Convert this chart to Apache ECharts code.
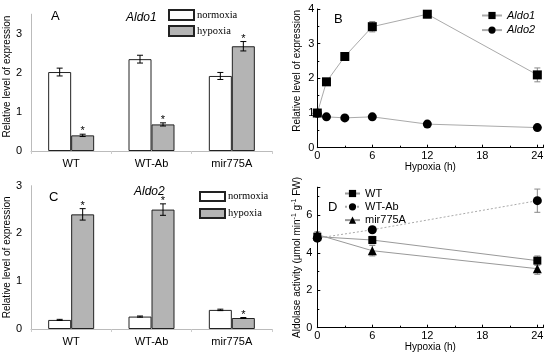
<!DOCTYPE html>
<html><head><meta charset="utf-8">
<script src="https://cdn.jsdelivr.net/npm/echarts@6/dist/echarts.min.js"></script>
<style>html,body{margin:0;padding:0;background:#fff}#c{width:550px;height:356px}</style>
</head><body><div id="c"></div>
<script>
// ---- Data ----
const groups = ['WT', 'WT-Ab', 'mir775A'];
// Panel A: Aldo1 expression
const aldo1Normoxia = [2.02, 2.35, 1.92];
const aldo1NormoxiaErr = [0.10, 0.10, 0.09];
const aldo1Hypoxia = [0.40, 0.68, 2.68];
const aldo1HypoxiaErr = [0.03, 0.04, 0.12];
const aldo1HypoxiaSig = [1, 1, 1];
// Panel C: Aldo2 expression
const aldo2Normoxia = [0.19, 0.26, 0.40];
const aldo2NormoxiaErr = [0.012, 0.012, 0.015];
const aldo2Hypoxia = [2.40, 2.50, 0.23];
const aldo2HypoxiaErr = [0.12, 0.12, 0.01];
const aldo2HypoxiaSig = [1, 1, 1];
// Panel B: time course
const hoursB = [0, 1, 3, 6, 12, 24];
const aldo1Time = [1.0, 1.90, 2.63, 3.49, 3.85, 2.10];
const aldo1TimeErr = [0.04, 0.05, 0.05, 0.15, 0.10, 0.20];
const aldo2Time = [0.99, 0.89, 0.86, 0.89, 0.68, 0.58];
const aldo2TimeErr = [0.03, 0.03, 0.03, 0.03, 0.08, 0.04];
// Panel D: aldolase activity
const hoursD = [0, 6, 24];
const wtAct = [4.86, 4.68, 3.58];
const wtActErr = [0.15, 0.20, 0.25];
const wtAbAct = [4.78, 5.23, 6.78];
const wtAbActErr = [0.15, 0.15, 0.62];
const mirAct = [4.97, 4.11, 3.15];
const mirActErr = [0.15, 0.28, 0.30];
// Tick settings
const xTicksTime = {min: 0, interval: 6};
</script>
<script>
const FONT = 'Liberation Sans';
const chart = echarts.init(document.getElementById('c'), null, {renderer: 'canvas'});

function seg(x1, y1, x2, y2, color) {
  return {type: 'line', shape: {x1, y1, x2, y2}, style: {stroke: color, lineWidth: 1}};
}
function errRender(offset, color, cap) {
  return function (params, api) {
    const x = api.value(0), v = api.value(1), e = api.value(2), s = api.value(3);
    const c = api.coord([x, v]);
    const t = api.coord([x, v + e]);
    const b = api.coord([x, v - e]);
    const cx = c[0] + offset;
    const ch = [seg(cx, t[1], cx, b[1], color), seg(cx - cap, t[1], cx + cap, t[1], color), seg(cx - cap, b[1], cx + cap, b[1], color)];
    if (s) {
      ch.push({type: 'text', style: {text: '*', x: cx, y: t[1] - 3, align: 'center', verticalAlign: 'middle', textAlign: 'center', textVerticalAlign: 'middle', font: '11px ' + FONT, fill: '#000'}});
    }
    return {type: 'group', children: ch};
  };
}
function errData(vals, errs, sig, xs) {
  return vals.map((v, i) => [xs ? xs[i] : i, v, errs[i], sig ? sig[i] : 0]);
}

const grayAxis = {lineStyle: {color: '#bbb', width: 1}};
const blackAxis = {lineStyle: {color: '#000', width: 1}};
const lbl = {color: '#000', fontFamily: FONT, fontSize: 11};
const yName = {color: '#000', fontFamily: FONT, fontSize: 10};

const barStyleN = {color: '#fff', borderColor: '#222', borderWidth: 1};
const barStyleH = {color: '#b4b4b4', borderColor: '#222', borderWidth: 1};

const option = {
  backgroundColor: '#fff',
  animation: false,
  textStyle: {fontFamily: FONT},
  title: [
    {text: 'A', left: 46, top: 5, textStyle: {fontSize: 13, fontWeight: 'normal', fontFamily: FONT, color: '#000'}},
    {text: 'Aldo1', left: 121, top: 7, textStyle: {fontSize: 12, fontStyle: 'italic', fontWeight: 'normal', fontFamily: FONT, color: '#000'}},
    {text: 'B', left: 329, top: 8, textStyle: {fontSize: 13, fontWeight: 'normal', fontFamily: FONT, color: '#000'}},
    {text: 'C', left: 44, top: 186, textStyle: {fontSize: 13, fontWeight: 'normal', fontFamily: FONT, color: '#000'}},
    {text: 'Aldo2', left: 129, top: 181, textStyle: {fontSize: 12, fontStyle: 'italic', fontWeight: 'normal', fontFamily: FONT, color: '#000'}},
    {text: 'D', left: 323, top: 196, textStyle: {fontSize: 13, fontWeight: 'normal', fontFamily: FONT, color: '#000'}}
  ],
  legend: [
    {data: ['normoxia', 'hypoxia'], left: 168, top: 9, orient: 'vertical', icon: 'rect', itemWidth: 25, itemHeight: 10, itemGap: 4, textStyle: {fontFamily: 'Liberation Serif', fontSize: 10.5, color: '#000', padding: [0, 0, 0, -2]}, selectedMode: false, padding: 0},
    {data: ['normoxia ', 'hypoxia '], left: 199, top: 191, orient: 'vertical', icon: 'rect', itemWidth: 25, itemHeight: 9, itemGap: 6, textStyle: {fontFamily: 'Liberation Serif', fontSize: 10.5, color: '#000', padding: [0, 0, 0, -2]}, selectedMode: false, padding: 0},
    {data: ['Aldo1', 'Aldo2'], left: 481, top: 10, orient: 'vertical', itemWidth: 20, itemHeight: 9, itemGap: 3.6, textStyle: {fontFamily: FONT, fontSize: 11, fontStyle: 'italic', color: '#000'}, selectedMode: false, padding: 0},
    {data: ['WT', 'WT-Ab', 'mir775A'], left: 344, top: 188, orient: 'vertical', itemWidth: 15, itemHeight: 9, itemGap: 2.3, textStyle: {fontFamily: FONT, fontSize: 11, color: '#000'}, selectedMode: false, padding: 0}
  ],
  grid: [
    {left: 31, top: 14.2, width: 241, height: 136.8},
    {left: 317.3, top: 9, width: 226, height: 138.7},
    {left: 31, top: 185.7, width: 241, height: 143.3},
    {left: 317.3, top: 187.2, width: 226, height: 140.5}
  ],
  xAxis: [
    {gridIndex: 0, type: 'category', data: groups, axisLine: grayAxis, axisTick: {show: true, length: 3, lineStyle: {color: '#ccc'}}, axisLabel: Object.assign({margin: 7}, lbl)},
    {gridIndex: 1, type: 'value', min: xTicksTime.min, max: 24.65, interval: xTicksTime.interval, name: 'Hypoxia (h)', nameLocation: 'middle', nameGap: 15, nameTextStyle: yName,
      axisLine: blackAxis, axisTick: {inside: true, length: 3, lineStyle: {color: '#000'}}, minorTick: {show: true, splitNumber: 2, length: 2, lineStyle: {color: '#000'}},
      splitLine: {show: false}, axisLabel: Object.assign({margin: 3, showMaxLabel: false}, lbl)},
    {gridIndex: 2, type: 'category', data: groups, axisLine: grayAxis, axisTick: {show: true, length: 3, lineStyle: {color: '#ccc'}}, axisLabel: Object.assign({margin: 7}, lbl)},
    {gridIndex: 3, type: 'value', min: xTicksTime.min, max: 24.65, interval: xTicksTime.interval, name: 'Hypoxia (h)', nameLocation: 'middle', nameGap: 13, nameTextStyle: yName,
      axisLine: blackAxis, axisTick: {inside: true, length: 3, lineStyle: {color: '#000'}}, minorTick: {show: true, splitNumber: 2, length: 2, lineStyle: {color: '#000'}},
      splitLine: {show: false}, axisLabel: Object.assign({margin: 3, showMaxLabel: false}, lbl)}
  ],
  yAxis: [
    {gridIndex: 0, type: 'value', min: 0, max: 3.5, interval: 1, name: 'Relative level of expression', nameLocation: 'middle', nameGap: 18, nameTextStyle: Object.assign({padding: [0, 0, 0, 12]}, yName),
      axisLine: Object.assign({show: true}, grayAxis), axisTick: {show: false}, splitLine: {show: false}, axisLabel: Object.assign({margin: 9, showMaxLabel: false}, lbl)},
    {gridIndex: 1, type: 'value', min: 0, max: 4, interval: 1, name: 'Relative level of expression', nameLocation: 'middle', nameGap: 15, nameTextStyle: Object.assign({padding: [0, 0, 0, 15]}, yName),
      axisLine: Object.assign({show: true}, blackAxis), axisTick: {show: true, inside: true, length: 3, lineStyle: {color: '#000'}}, minorTick: {show: true, splitNumber: 2, length: 2, lineStyle: {color: '#000'}},
      splitLine: {show: false}, axisLabel: Object.assign({margin: 3}, lbl)},
    {gridIndex: 2, type: 'value', min: 0, max: 3, interval: 1, name: 'Relative level of expression', nameLocation: 'middle', nameGap: 18, nameTextStyle: yName,
      axisLine: Object.assign({show: true}, grayAxis), axisTick: {show: false}, splitLine: {show: false}, axisLabel: Object.assign({margin: 9}, lbl)},
    {gridIndex: 3, type: 'value', min: 0, max: 7.5, interval: 2, name: 'Aldolase activity (μmol min{s|-1} g{s|-1} FW)', nameLocation: 'middle', nameGap: 14,
      nameTextStyle: Object.assign({rich: {s: {fontSize: 7, verticalAlign: 'top', padding: [0, 0, 6, 0], fontFamily: FONT, color: '#000'}}}, yName),
      axisLine: Object.assign({show: true}, blackAxis), axisTick: {show: true, inside: true, length: 3, lineStyle: {color: '#000'}}, minorTick: {show: true, splitNumber: 2, length: 2, lineStyle: {color: '#000'}},
      splitLine: {show: false}, axisLabel: Object.assign({margin: 5, showMaxLabel: false}, lbl)}
  ],
  series: [
    // Panel A
    {name: 'normoxia', type: 'bar', xAxisIndex: 0, yAxisIndex: 0, data: aldo1Normoxia, barWidth: 23, barGap: '0%', itemStyle: barStyleN},
    {name: 'hypoxia', type: 'bar', xAxisIndex: 0, yAxisIndex: 0, data: aldo1Hypoxia, barWidth: 23, barGap: '0%', itemStyle: barStyleH},
    {type: 'custom', xAxisIndex: 0, yAxisIndex: 0, z: 5, data: errData(aldo1Normoxia, aldo1NormoxiaErr), renderItem: errRender(-11.5, '#000', 3), encode: {x: 0, y: 1}},
    {type: 'custom', xAxisIndex: 0, yAxisIndex: 0, z: 5, data: errData(aldo1Hypoxia, aldo1HypoxiaErr, aldo1HypoxiaSig), renderItem: errRender(11.5, '#000', 3), encode: {x: 0, y: 1}},
    // Panel C
    {name: 'normoxia ', type: 'bar', xAxisIndex: 2, yAxisIndex: 2, data: aldo2Normoxia, barWidth: 23, barGap: '0%', itemStyle: barStyleN},
    {name: 'hypoxia ', type: 'bar', xAxisIndex: 2, yAxisIndex: 2, data: aldo2Hypoxia, barWidth: 23, barGap: '0%', itemStyle: barStyleH},
    {type: 'custom', xAxisIndex: 2, yAxisIndex: 2, z: 5, data: errData(aldo2Normoxia, aldo2NormoxiaErr), renderItem: errRender(-11.5, '#000', 3), encode: {x: 0, y: 1}},
    {type: 'custom', xAxisIndex: 2, yAxisIndex: 2, z: 5, data: errData(aldo2Hypoxia, aldo2HypoxiaErr, aldo2HypoxiaSig), renderItem: errRender(11.5, '#000', 3), encode: {x: 0, y: 1}},
    // Panel B
    {type: 'custom', xAxisIndex: 1, yAxisIndex: 1, z: 1, data: errData(aldo1Time, aldo1TimeErr, null, hoursB), renderItem: errRender(0, '#888', 3), encode: {x: 0, y: 1}},
    {type: 'custom', xAxisIndex: 1, yAxisIndex: 1, z: 1, data: errData(aldo2Time, aldo2TimeErr, null, hoursB), renderItem: errRender(0, '#888', 3), encode: {x: 0, y: 1}},
    {name: 'Aldo1', type: 'line', xAxisIndex: 1, yAxisIndex: 1, data: hoursB.map((h, i) => [h, aldo1Time[i]]), symbol: 'rect', symbolSize: 9, itemStyle: {color: '#000'}, lineStyle: {color: '#aaa', width: 1}, z: 3},
    {name: 'Aldo2', type: 'line', xAxisIndex: 1, yAxisIndex: 1, data: hoursB.map((h, i) => [h, aldo2Time[i]]), symbol: 'circle', symbolSize: 9, itemStyle: {color: '#000'}, lineStyle: {color: '#aaa', width: 1}, z: 3},
    // Panel D
    {type: 'custom', xAxisIndex: 3, yAxisIndex: 3, z: 1, data: errData(wtAct, wtActErr, null, hoursD), renderItem: errRender(0, '#888', 3), encode: {x: 0, y: 1}},
    {type: 'custom', xAxisIndex: 3, yAxisIndex: 3, z: 1, data: errData(wtAbAct, wtAbActErr, null, hoursD), renderItem: errRender(0, '#888', 3), encode: {x: 0, y: 1}},
    {type: 'custom', xAxisIndex: 3, yAxisIndex: 3, z: 1, data: errData(mirAct, mirActErr, null, hoursD), renderItem: errRender(0, '#888', 3), encode: {x: 0, y: 1}},
    {name: 'WT', type: 'line', xAxisIndex: 3, yAxisIndex: 3, data: hoursD.map((h, i) => [h, wtAct[i]]), symbol: 'rect', symbolSize: 8, itemStyle: {color: '#000'}, lineStyle: {color: '#999', width: 1}, z: 3},
    {name: 'WT-Ab', type: 'line', xAxisIndex: 3, yAxisIndex: 3, data: hoursD.map((h, i) => [h, wtAbAct[i]]), symbol: 'circle', symbolSize: 9, itemStyle: {color: '#000'}, lineStyle: {color: '#aaa', width: 1, type: [2, 2]}, z: 3},
    {name: 'mir775A', type: 'line', xAxisIndex: 3, yAxisIndex: 3, data: hoursD.map((h, i) => [h, mirAct[i]]), symbol: 'triangle', symbolSize: 9, itemStyle: {color: '#000'}, lineStyle: {color: '#999', width: 1}, z: 3}
  ]
};
chart.setOption(option);
</script>
</body></html>
